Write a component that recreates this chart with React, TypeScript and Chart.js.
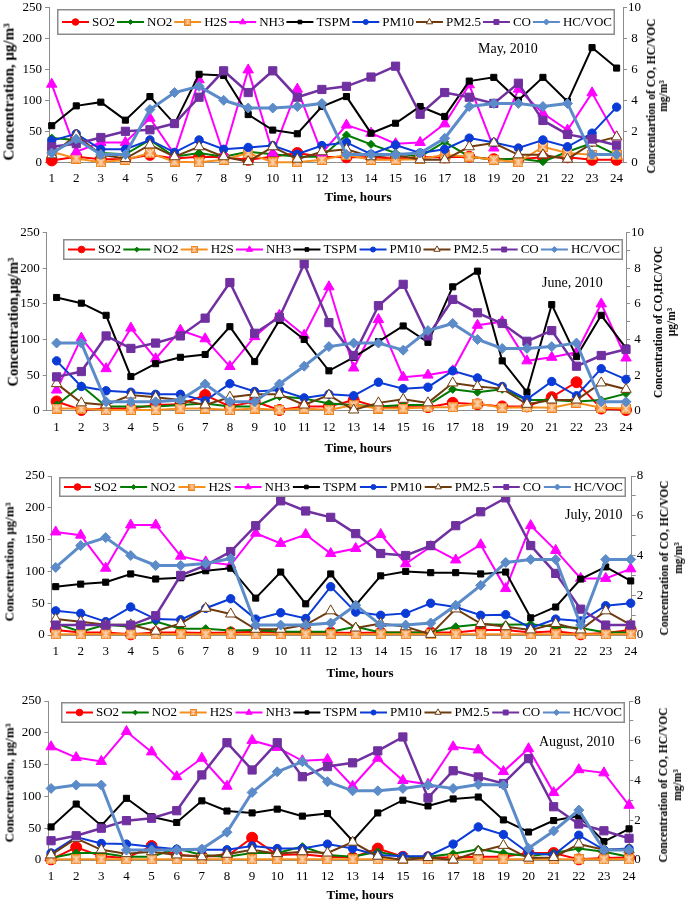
import React, { useEffect, useRef } from 'react';
import { Chart, registerables } from 'chart.js';

Chart.register(...registerables);

const FONT = "'Liberation Serif', 'Times New Roman', Times, serif";

const HOURS = [1, 2, 3, 4, 5, 6, 7, 8, 9, 10, 11, 12, 13, 14, 15, 16, 17, 18, 19, 20, 21, 22, 23, 24];
const SERIES_NAMES = ['SO2', 'NO2', 'H2S', 'NH3', 'TSPM', 'PM10', 'PM2.5', 'CO', 'HC/VOC'];
const LEFT_TICKS = [0, 50, 100, 150, 200, 250];

// ---------- May, 2010 ----------
const maySO2 = [3, 9, 5, 5, 12, 6, 9, 8, 4, 9, 15, 9, 8, 8, 6, 8, 8, 9, 5, 5, 8, 8, 4, 4];
const mayNO2 = [39, 36, 15, 13, 36, 9, 15, 9, 17, 13, 9, 9, 44, 29, 15, 9, 33, 9, 4, 6, 1, 17, 31, 12];
const mayH2S = [17, 6, 0, 4, 15, 1, 0, 4, 15, 0, 0, 4, 12, 4, 4, 5, 12, 9, 4, 0, 25, 15, 12, 12];
const mayNH3 = [126, 17, 32, 32, 71, 13, 133, 13, 149, 15, 118, 15, 60, 47, 30, 32, 62, 125, 23, 118, 79, 52, 112, 41];
const mayTSPM = [59, 91, 97, 68, 106, 62, 142, 140, 77, 52, 46, 90, 106, 47, 63, 90, 74, 131, 137, 100, 137, 98, 185, 152];
const mayPM10 = [35, 46, 21, 21, 36, 16, 36, 21, 24, 27, 13, 27, 32, 13, 28, 15, 21, 39, 32, 23, 36, 25, 47, 89];
const mayPM25 = [12, 44, 12, 6, 28, 9, 25, 9, 1, 25, 5, 17, 21, 9, 12, 4, 4, 25, 31, 12, 12, 5, 31, 41];
const mayCO = [1.0, 1.2, 1.6, 2.0, 2.1, 2.5, 4.2, 5.9, 4.5, 5.9, 4.2, 4.7, 4.9, 5.5, 6.2, 3.1, 4.5, 4.2, 3.8, 5.1, 2.7, 1.8, 1.5, 1.1];
const mayHC = [0.6, 1.5, 0.5, 0.5, 3.4, 4.5, 4.9, 4.0, 3.5, 3.5, 3.6, 3.8, 0.5, 0.5, 0.5, 0.6, 1.55, 3.6, 3.8, 3.8, 3.6, 3.8, 0.5, 0.5];

// ---------- June, 2010 ----------
const junSO2 = [13, 1, 3, 3, 8, 9, 22, 6, 13, 1, 6, 6, 15, 5, 5, 5, 11, 9, 6, 6, 19, 40, 3, 1];
const junNO2 = [8, 35, 6, 6, 6, 8, 10, 6, 6, 20, 17, 10, 8, 6, 8, 8, 30, 26, 30, 15, 15, 13, 15, 24];
const junH2S = [3, 3, 1, 1, 1, 3, 3, 1, 3, 1, 3, 1, 8, 3, 3, 5, 5, 10, 4, 5, 4, 11, 4, 3];
const junNH3 = [29, 102, 59, 116, 73, 113, 101, 62, 104, 134, 106, 174, 60, 128, 47, 50, 56, 120, 125, 70, 75, 82, 150, 74];
const junTSPM = [159, 151, 134, 48, 66, 75, 79, 118, 69, 127, 100, 56, 75, 97, 119, 96, 174, 196, 70, 26, 149, 76, 134, 88];
const junPM10 = [70, 34, 28, 26, 23, 23, 14, 38, 27, 29, 18, 23, 21, 40, 31, 33, 56, 46, 34, 16, 41, 21, 59, 44];
const junPM25 = [38, 11, 8, 22, 19, 15, 8, 19, 23, 23, 8, 22, 1, 11, 16, 11, 39, 34, 31, 9, 15, 15, 39, 30];
const junCO = [1.9, 2.2, 4.2, 3.5, 3.8, 4.2, 5.2, 7.2, 4.35, 5.25, 8.25, 4.95, 3.1, 5.9, 7.1, 4.2, 6.25, 5.5, 4.9, 3.9, 4.5, 2.5, 3.1, 3.45];
const junHC = [3.8, 3.8, 0.5, 0.5, 0.5, 0.6, 1.5, 0.5, 0.5, 1.5, 2.5, 3.6, 3.8, 3.8, 3.4, 4.5, 4.9, 4.0, 3.5, 3.5, 3.6, 3.8, 0.5, 0.5];

// ---------- July, 2010 ----------
const julSO2 = [8, 4, 4, 1, 4, 4, 3, 4, 5, 4, 4, 4, 3, 4, 4, 4, 4, 8, 8, 4, 6, 1, 3, 8];
const julNO2 = [18, 5, 16, 13, 21, 10, 10, 7, 8, 5, 5, 5, 13, 4, 4, 4, 13, 17, 16, 17, 13, 11, 4, 4];
const julH2S = [1, 1, 1, 1, 1, 1, 1, 1, 1, 1, 1, 1, 1, 1, 1, 1, 1, 1, 1, 1, 1, 1, 1, 1];
const julNH3 = [162, 157, 105, 173, 173, 124, 115, 110, 160, 144, 158, 128, 136, 158, 112, 139, 118, 142, 73, 172, 133, 89, 89, 104];
const julTSPM = [76, 80, 83, 96, 88, 90, 101, 105, 58, 99, 49, 96, 47, 93, 100, 98, 98, 96, 99, 27, 44, 88, 107, 85];
const julPM10 = [38, 34, 21, 44, 25, 24, 42, 57, 25, 35, 26, 76, 36, 31, 34, 50, 44, 31, 32, 11, 25, 22, 46, 50];
const julPM25 = [25, 21, 16, 16, 6, 18, 42, 33, 9, 9, 16, 38, 11, 18, 13, 1, 41, 18, 13, 8, 18, 8, 38, 16];
const julCO = [0.5, 0.5, 0.5, 0.5, 0.97, 3.0, 3.5, 4.2, 5.5, 6.75, 6.24, 5.92, 5.1, 4.1, 4.0, 4.5, 5.5, 6.2, 6.9, 4.5, 3.1, 1.3, 0.5, 0.5];
const julHC = [3.4, 4.5, 4.9, 4.0, 3.5, 3.5, 3.6, 3.85, 0.5, 0.5, 0.5, 0.6, 1.5, 0.5, 0.5, 0.6, 1.5, 2.5, 3.65, 3.8, 3.8, 0.5, 3.8, 3.8];

// ---------- August, 2010 ----------
const augSO2 = [1, 20, 6, 3, 22, 8, 6, 6, 35, 8, 9, 5, 4, 18, 5, 4, 4, 5, 5, 11, 11, 1, 3, 4];
const augNO2 = [3, 11, 11, 5, 5, 18, 8, 5, 11, 11, 21, 8, 5, 13, 5, 5, 10, 17, 11, 6, 11, 18, 13, 5];
const augH2S = [1, 1, 1, 1, 1, 1, 1, 1, 1, 1, 1, 1, 1, 1, 1, 1, 1, 1, 1, 1, 1, 1, 1, 1];
const augNH3 = [178, 161, 155, 202, 170, 131, 160, 116, 188, 177, 156, 158, 116, 160, 125, 119, 178, 173, 139, 175, 106, 142, 137, 86];
const augTSPM = [52, 88, 54, 97, 68, 59, 93, 77, 74, 80, 69, 73, 30, 74, 94, 85, 96, 99, 63, 44, 62, 69, 29, 49];
const augPM10 = [11, 36, 26, 25, 21, 17, 16, 16, 22, 18, 18, 25, 18, 8, 6, 6, 25, 52, 40, 11, 8, 39, 16, 18];
const augPM25 = [8, 34, 16, 10, 13, 8, 5, 9, 16, 10, 13, 11, 28, 6, 0, 4, 0, 13, 23, 3, 4, 25, 16, 16];
const augCO = [0.97, 1.22, 1.6, 1.98, 2.1, 2.48, 4.28, 5.9, 4.53, 5.9, 4.19, 4.7, 4.89, 5.49, 6.19, 3.13, 4.49, 4.18, 3.85, 5.1, 2.68, 1.81, 1.47, 1.09];
const augHC = [3.6, 3.77, 3.77, 0.5, 0.5, 0.5, 0.55, 1.4, 3.4, 4.44, 4.95, 3.94, 3.48, 3.48, 3.6, 3.77, 3.6, 3.8, 3.77, 0.59, 1.46, 2.51, 0.5, 0.5];

// ---------- series styles ----------
const STYLES: any[] = [
  { color: '#FF0000', fill: '#FF0000', style: 'circle', r: 5.5, lw: 2, right: false },
  { color: '#007A00', fill: '#007A00', style: 'rectRot', r: 4, lw: 2, right: false },
  { color: '#F5901F', fill: '#F79646', style: 'h2s', r: 5, lw: 2, right: false },
  { color: '#FF00FF', fill: '#FF00FF', style: 'triangle', r: 6, lw: 2, right: false },
  { color: '#000000', fill: '#000000', style: 'rect', r: 4.3, lw: 2, right: false },
  { color: '#0A3BD6', fill: '#0A3BD6', style: 'circle', r: 4.2, lw: 2, right: false },
  { color: '#6E3B0E', fill: '#FFFFFF', style: 'triangle', r: 6, lw: 2, right: false },
  { color: '#7030A0', fill: '#7030A0', style: 'rect', r: 5.8, lw: 2.5, right: true },
  { color: '#5B8BC9', fill: '#5B8BC9', style: 'rectRot', r: 5, lw: 3, right: true },
];

const PANELS: any[] = [
  {
    month: 'May, 2010',
    data: [maySO2, mayNO2, mayH2S, mayNH3, mayTSPM, mayPM10, mayPM25, mayCO, mayHC],
    top: 0, height: 225,
    area: { left: 49, right: 623, top: 7.3, bottom: 162.3 },
    xmin: 0.89, xmax: 24.26, rmax: 10,
    legend: { x0: 57, x1: 615, y0: 9, y1: 35 },
    leftTitle: 'Concentration, μg/m³', leftTitlePos: [9, 92], leftTitleSize: 15,
    rightTitle: ['Concentartion of CO, HC/VOC', 'mg/m³'], rightTitlePos: [657, 96], rightGap: 12,
    timePos: [358, 197],
    monthPos: [478, 49],
  },
  {
    month: 'June, 2010',
    data: [junSO2, junNO2, junH2S, junNH3, junTSPM, junPM10, junPM25, junCO, junHC],
    top: 225, height: 225,
    area: { left: 46.7, right: 626, top: 7.7, bottom: 185.7 },
    xmin: 0.6, xmax: 24.0, rmax: 10,
    legend: { x0: 63, x1: 623, y0: 14, y1: 35 },
    leftTitle: 'Concentration,μg/m³', leftTitlePos: [13, 322], leftTitleSize: 14.5,
    rightTitle: ['Concentration of CO,HC/VOC', 'μg/m³'], rightTitlePos: [665, 322], rightGap: 13,
    timePos: [358, 448],
    monthPos: [542, 283],
  },
  {
    month: 'July, 2010',
    data: [julSO2, julNO2, julH2S, julNH3, julTSPM, julPM10, julPM25, julCO, julHC],
    top: 450, height: 225,
    area: { left: 51.7, right: 631.7, top: 26, bottom: 185 },
    xmin: 0.84, xmax: 24.04, rmax: 8,
    legend: { x0: 59, x1: 626, y0: 27, y1: 47 },
    leftTitle: 'Concentration, μg/m³', leftTitlePos: [9, 562], leftTitleSize: 13,
    rightTitle: ['Concentration of CO, HC/VOC', 'mg/m³'], rightTitlePos: [671, 558], rightGap: 14,
    timePos: [360, 673],
    monthPos: [565, 515],
  },
  {
    month: 'August, 2010',
    data: [augSO2, augNO2, augH2S, augNH3, augTSPM, augPM10, augPM25, augCO, augHC],
    top: 675, height: 232,
    area: { left: 48.3, right: 629.3, top: 26, bottom: 185 },
    xmin: 0.89, xmax: 24.01, rmax: 8,
    legend: { x0: 61, x1: 625, y0: 27, y1: 48 },
    leftTitle: 'Concentration, μg/m³', leftTitlePos: [9, 783], leftTitleSize: 13,
    rightTitle: ['Concentration of CO, HC/VOC', 'mg/m³'], rightTitlePos: [670, 785], rightGap: 14,
    timePos: [360, 895],
    monthPos: [539, 742],
  },
];

const W = 685;

function makeH2SMarker(size: number) {
  const c = document.createElement('canvas');
  c.width = size;
  c.height = size;
  const g = c.getContext('2d')!;
  g.fillStyle = '#F79646';
  g.fillRect(0, 0, size, size);
  g.strokeStyle = '#FCD3AC';
  g.lineWidth = Math.max(1, size / 7);
  g.beginPath();
  g.moveTo(1, 1); g.lineTo(size - 1, size - 1);
  g.moveTo(size - 1, 1); g.lineTo(1, size - 1);
  g.moveTo(size / 2, 0.5); g.lineTo(size / 2, size - 0.5);
  g.stroke();
  g.strokeStyle = '#EE8420';
  g.lineWidth = 1;
  g.strokeRect(0.5, 0.5, size - 1, size - 1);
  return c;
}

function drawMarker(ctx: CanvasRenderingContext2D, st: any, x: number, y: number, r: number, img: any) {
  ctx.save();
  ctx.fillStyle = st.fill;
  ctx.strokeStyle = st.color;
  ctx.lineWidth = 1;
  ctx.beginPath();
  if (st.style === 'h2s') {
    ctx.drawImage(img, x - img.width / 2, y - img.height / 2);
    ctx.restore();
    return;
  }
  if (st.style === 'circle') {
    ctx.arc(x, y, r, 0, Math.PI * 2);
  } else if (st.style === 'rect') {
    const s = r * Math.SQRT1_2;
    ctx.rect(x - s, y - s, 2 * s, 2 * s);
  } else if (st.style === 'rectRot') {
    ctx.moveTo(x, y - r); ctx.lineTo(x + r, y); ctx.lineTo(x, y + r); ctx.lineTo(x - r, y); ctx.closePath();
  } else if (st.style === 'triangle') {
    const h = r * 1.5;
    const half = r * 0.87;
    ctx.moveTo(x, y - r); ctx.lineTo(x + half, y + h - r); ctx.lineTo(x - half, y + h - r); ctx.closePath();
  }
  ctx.fill();
  ctx.stroke();
  ctx.restore();
}

const boxLegend = {
  id: 'boxLegend',
  afterDatasetsDraw(chart: any, _args: any, opts: any) {
    if (!opts || !opts.box) return;
    const { ctx } = chart;
    const { x0, x1, y0, y1 } = opts.box;
    ctx.save();
    ctx.fillStyle = '#FFFFFF';
    ctx.fillRect(x0, y0, x1 - x0, y1 - y0);
    ctx.strokeStyle = '#8C8C8C';
    ctx.lineWidth = 1.5;
    ctx.strokeRect(x0 + 0.75, y0 + 0.75, x1 - x0 - 1.5, y1 - y0 - 1.5);
    ctx.font = `13px ${FONT}`;
    ctx.textBaseline = 'middle';
    ctx.textAlign = 'left';
    const cy = (y0 + y1) / 2;
    const lineLen = 27;
    const g1 = 3;
    const widths = SERIES_NAMES.map((n) => ctx.measureText(n).width);
    const total = widths.reduce((a, w) => a + lineLen + g1 + w, 0);
    const spacing = (x1 - x0 - 8 - total) / (SERIES_NAMES.length - 1);
    let x = x0 + 5;
    SERIES_NAMES.forEach((name, i) => {
      const st = STYLES[i];
      ctx.strokeStyle = st.color;
      ctx.lineWidth = 2;
      ctx.beginPath();
      ctx.moveTo(x, cy);
      ctx.lineTo(x + lineLen, cy);
      ctx.stroke();
      drawMarker(ctx, st, x + lineLen / 2, cy, st.r * 0.6, opts.smallImg);
      ctx.fillStyle = '#000000';
      ctx.fillText(name, x + lineLen + g1, cy + 0.5);
      x += lineLen + g1 + widths[i] + spacing;
    });
    ctx.restore();
  },
};

function buildConfig(p: any, bigImg: any, smallImg: any) {
  const H = p.height;
  const A = p.area;
  const datasets = SERIES_NAMES.map((name, i) => {
    const st = STYLES[i];
    return {
      label: name,
      data: HOURS.map((h, k) => ({ x: h, y: p.data[i][k] })),
      yAxisID: st.right ? 'y1' : 'y',
      borderColor: st.color,
      backgroundColor: st.fill,
      borderWidth: st.lw,
      pointStyle: st.style === 'h2s' ? bigImg : st.style,
      pointRadius: st.r,
      pointBorderColor: st.color,
      pointBackgroundColor: st.fill,
      pointBorderWidth: 1,
      tension: 0,
      clip: false,
      order: 9 - i,
    };
  });
  const tickFont = { family: FONT, size: 13, lineHeight: 1 };
  return {
    type: 'line',
    data: { datasets },
    plugins: [boxLegend],
    options: {
      animation: false,
      responsive: false,
      maintainAspectRatio: false,
      events: [],
      layout: { padding: { top: A.top, left: 0, right: 0, bottom: 0 }, autoPadding: false },
      plugins: {
        legend: { display: false },
        tooltip: { enabled: false },
        title: { display: false },
        boxLegend: { box: p.legend, smallImg },
      },
      scales: {
        x: {
          type: 'linear',
          min: p.xmin,
          max: p.xmax,
          afterBuildTicks: (s: any) => { s.ticks = HOURS.map((v) => ({ value: v })); },
          afterFit: (s: any) => { s.height = H - A.bottom; s.paddingLeft = 0; s.paddingRight = 0; },
          ticks: { autoSkip: false, maxRotation: 0, minRotation: 0, padding: 10, color: '#000', font: tickFont, callback: (v: any) => String(v) },
          grid: { display: true, drawOnChartArea: false, drawTicks: false, color: '#8C8C8C' },
          border: { display: true, color: '#8C8C8C', width: 1 },
        },
        y: {
          position: 'left',
          min: 0,
          max: 250,
          afterBuildTicks: (s: any) => { s.ticks = LEFT_TICKS.map((v) => ({ value: v })); },
          afterFit: (s: any) => { s.width = A.left; s.paddingTop = 0; s.paddingBottom = 0; },
          ticks: { padding: 3, color: '#000', font: tickFont },
          grid: { display: true, drawOnChartArea: false, drawTicks: true, tickLength: 4, color: '#8C8C8C' },
          border: { display: true, color: '#8C8C8C', width: 1 },
        },
        y1: {
          position: 'right',
          min: 0,
          max: p.rmax,
          ticks: {
            stepSize: 1, padding: 1, color: '#000', font: tickFont, crossAlign: 'center',
            callback: (v: any) => (Number(v) % 2 === 0 ? String(v) : ''),
          },
          afterFit: (s: any) => { s.width = W - A.right; s.paddingTop = 0; s.paddingBottom = 0; },
          grid: { display: true, drawOnChartArea: false, drawTicks: true, tickLength: 4, color: '#8C8C8C' },
          border: { display: true, color: '#8C8C8C', width: 1 },
        },
      },
    },
  };
}

function RotText({ cx, cy, size, lines, gap }: any) {
  return (
    <div
      style={{
        position: 'absolute',
        left: cx,
        top: cy,
        transform: 'translate(-50%, -50%) rotate(-90deg)',
        whiteSpace: 'nowrap',
        fontFamily: FONT,
        fontWeight: 'bold',
        fontSize: size,
        lineHeight: `${gap}px`,
        textAlign: 'center',
        color: '#000',
      }}
    >
      {lines.map((l: string, i: number) => (
        <div key={i}>{l}</div>
      ))}
    </div>
  );
}

function PanelView({ p }: any) {
  const ref = useRef<HTMLCanvasElement | null>(null);
  useEffect(() => {
    if (!ref.current) return;
    const big = makeH2SMarker(10);
    const small = makeH2SMarker(7);
    const chart = new Chart(ref.current, buildConfig(p, big, small) as any);
    return () => chart.destroy();
  }, [p]);
  return (
    <>
      <canvas
        ref={ref}
        width={W}
        height={p.height}
        style={{ position: 'absolute', left: 0, top: p.top, width: W, height: p.height }}
      />
      <RotText cx={p.leftTitlePos[0]} cy={p.leftTitlePos[1]} size={p.leftTitleSize} lines={[p.leftTitle]} gap={p.leftTitleSize + 2} />
      <RotText cx={p.rightTitlePos[0]} cy={p.rightTitlePos[1]} size={11.5} lines={p.rightTitle} gap={p.rightGap} />
      <div
        style={{
          position: 'absolute', left: p.timePos[0], top: p.timePos[1], transform: 'translate(-50%, -50%)',
          fontFamily: FONT, fontWeight: 'bold', fontSize: 13, whiteSpace: 'nowrap', color: '#000',
        }}
      >
        Time, hours
      </div>
      <div
        style={{
          position: 'absolute', left: p.monthPos[0], top: p.monthPos[1], transform: 'translate(0, -50%)',
          fontFamily: FONT, fontSize: 14, whiteSpace: 'nowrap', color: '#000',
        }}
      >
        {p.month}
      </div>
    </>
  );
}

export default function App() {
  return (
    <div style={{ position: 'fixed', left: 0, top: 0, width: W, height: 907, background: '#fff', overflow: 'hidden' }}>
      {PANELS.map((p, i) => (
        <PanelView key={i} p={p} />
      ))}
    </div>
  );
}
